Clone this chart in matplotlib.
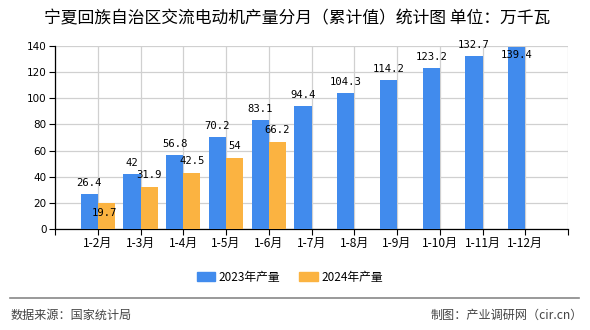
import matplotlib
matplotlib.use("Agg")
import matplotlib.pyplot as plt
from matplotlib.lines import Line2D
from matplotlib.patches import Patch

plt.rcParams['font.family'] = ['Noto Sans CJK SC', 'DejaVu Sans']

categories = ['1-2月', '1-3月', '1-4月', '1-5月', '1-6月', '1-7月',
              '1-8月', '1-9月', '1-10月', '1-11月', '1-12月']
values_2023 = [26.4, 42, 56.8, 70.2, 83.1, 94.4, 104.3, 114.2, 123.2, 132.7, 139.4]
values_2024 = [19.7, 31.9, 42.5, 54, 66.2]
series_names = ['2023年产量', '2024年产量']
yticks = [0, 20, 40, 60, 80, 100, 120, 140]

blue = '#418BED'
orange = '#FBB341'
W, H = 590, 330
fig = plt.figure(figsize=(W / 100, H / 100), dpi=100)
ax = fig.add_axes([55 / W, 1 - 229 / H, (568 - 55) / W, (229 - 46) / H])

bw = 0.40
x23 = [i + 1 for i in range(len(values_2023))]
x24 = [i + 1 for i in range(len(values_2024))]
ax.bar([x - bw / 2 for x in x23], values_2023, width=bw, color=blue, zorder=3)
ax.bar([x + bw / 2 for x in x24], values_2024, width=bw, color=orange, zorder=3)

ax.set_xlim(0, len(categories) + 1)
ax.set_ylim(0, 140)
ax.set_xticks(range(0, len(categories) + 2))
ax.set_xticklabels([''] + categories + [''], fontsize=8.6)
ax.set_yticks(yticks)
ax.set_yticklabels([str(v) for v in yticks], fontsize=7.5, family=['DejaVu Sans'])
ax.tick_params(axis='x', length=4, width=0.8, color='black', pad=2)
ax.tick_params(axis='y', length=4, width=0.8, color='black', pad=2)
ax.grid(True, color='#D0D0D0', linewidth=0.9, zorder=0)
for s in ['top', 'right']:
    ax.spines[s].set_visible(False)
ax.spines['left'].set_color('black')
ax.spines['bottom'].set_color('black')
ax.spines['left'].set_linewidth(0.9)
ax.spines['bottom'].set_linewidth(0.9)

lab_font = dict(fontsize=7.6, family=['DejaVu Sans Mono'], color='black', zorder=5)

def fmt(v):
    return ('%g' % v)

for i, (x, v) in enumerate(zip(x23, values_2023)):
    if v >= 139:
        ax.annotate(fmt(v), (x - bw / 2, v), xytext=(0, -8), textcoords='offset pixels',
                    ha='center', va='center', **lab_font)
    else:
        ax.annotate(fmt(v), (x - bw / 2, v), xytext=(0, 11), textcoords='offset pixels',
                    ha='center', va='center', **lab_font)
for i, (x, v) in enumerate(zip(x24, values_2024)):
    if i == 0:
        ax.annotate(fmt(v), (x + bw / 2, v), xytext=(-2, -10), textcoords='offset pixels',
                    ha='center', va='center', **lab_font)
    else:
        ax.annotate(fmt(v), (x + bw / 2, v), xytext=(0, 12), textcoords='offset pixels',
                    ha='center', va='center', **lab_font)

fig.text(297 / W, 1 - 19 / H, '宁夏回族自治区交流电动机产量分月（累计值）统计图 单位：万千瓦',
         ha='center', va='center', fontsize=12.1, color='black')

handles = [Patch(color=blue), Patch(color=orange)]
fig.legend(handles, series_names, loc='center', bbox_to_anchor=(290 / W, 1 - 277 / H),
           ncol=2, frameon=False, fontsize=8.5, handlelength=1.6, handleheight=0.7,
           handletextpad=0.3, columnspacing=1.6)

fig.add_artist(Line2D([10 / W, 579 / W], [1 - 298 / H, 1 - 298 / H],
                      color='#888888', linewidth=1.2))
fig.text(11 / W, 1 - 315 / H, '数据来源：国家统计局', ha='left', va='center',
         fontsize=8.7, color='#444444')
fig.text(583 / W, 1 - 315 / H, '制图：产业调研网（cir.cn）', ha='right', va='center',
         fontsize=8.7, color='#444444')

fig.savefig('out.png', dpi=100)
